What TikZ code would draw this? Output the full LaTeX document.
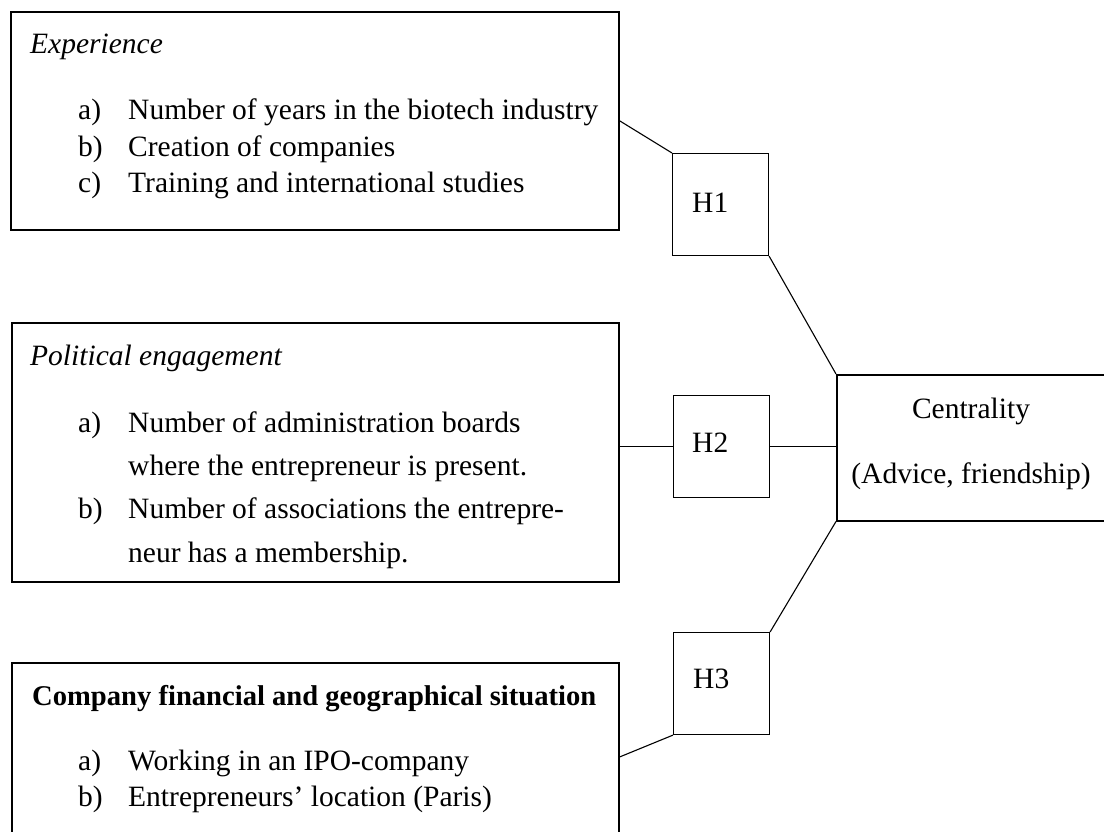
\documentclass[tikz,border=0pt]{standalone}
\usepackage{fontspec}
\setmainfont{Liberation Serif}
\begin{document}
\begin{tikzpicture}[x=1pt,y=-1pt,
  bigbox/.style={draw, line width=1.8pt, inner sep=0pt, anchor=north west},
  hbox/.style={draw, line width=1.1pt, inner sep=0pt, anchor=north west, minimum width=96pt, minimum height=102pt},
  txt/.style={anchor=base west, inner sep=0pt, font=\fontsize{29.5}{35}\selectfont},
  ctxt/.style={anchor=base, inner sep=0pt, font=\fontsize{29.5}{35}\selectfont},
  conn/.style={line width=1.1pt}]
\useasboundingbox (0,0) rectangle (1104,832);
% boxes
\node[bigbox, minimum width=608pt, minimum height=218pt] (exp) at (10,11) {};
\node[bigbox, minimum width=607pt, minimum height=259pt] (pol) at (11,322) {};
\node[bigbox, minimum width=607pt, minimum height=188pt] (fin) at (11,662) {};
\node[bigbox, line width=1.5pt, minimum width=270pt, minimum height=146pt] (cent) at (836,374) {};
\node[hbox] (h1) at (672,153) {};
\node[hbox] (h2) at (673,395) {};
\node[hbox] (h3) at (673,632) {};
% texts box 1
\node[txt] (t1) at (30,54) {\itshape Experience};
\node[txt] (l1a) at (78,120) {a)};
\node[txt] (i1a) at (128,120) {Number of years in the biotech industry};
\node[txt] (l1b) at (78,157) {b)};
\node[txt] (i1b) at (128,157) {Creation of companies};
\node[txt] (l1c) at (78,193) {c)};
\node[txt] (i1c) at (128,193) {Training and international studies};
% texts box 2
\node[txt] (t2) at (30,365) {\itshape Political engagement};
\node[txt] (l2a) at (78,432) {a)};
\node[txt] (i2a) at (128,432) {Number of administration boards};
\node[txt] (i2a2) at (128,475) {where the entrepreneur is present.};
\node[txt] (l2b) at (78,518) {b)};
\node[txt] (i2b) at (128,518) {Number of associations the entrepre-};
\node[txt] (i2b2) at (128,562) {neur has a membership.};
% texts box 3
\node[txt, font=\fontsize{28.6}{34}\selectfont] (t3) at (32,705) {\bfseries Company financial and geographical situation};
\node[txt] (l3a) at (78,770) {a)};
\node[txt] (i3a) at (128,770) {Working in an IPO-company};
\node[txt] (l3b) at (78,806) {b)};
\node[txt] (i3b) at (128,806) {Entrepreneurs’ location (Paris)};
% H labels
\node[txt] (h1t) at (692,212) {H1};
\node[txt] (h2t) at (692,452) {H2};
\node[txt] (h3t) at (693,688) {H3};
% centrality
\node[ctxt] (c1) at (971,418) {Centrality};
\node[ctxt] (c2) at (971,483) {(Advice, friendship)};
% connectors
\draw[conn] (exp.east) -- (h1.north west);
\draw[conn] (h1.south east) -- (cent.north west);
\draw[conn] (h2.west -| pol.east) -- (h2.west);
\draw[conn] (h2.east) -- (h2.east -| cent.west);
\draw[conn] (cent.south west) -- (h3.north east);
\draw[conn] (h3.south west) -- (fin.east);
\end{tikzpicture}
\end{document}
